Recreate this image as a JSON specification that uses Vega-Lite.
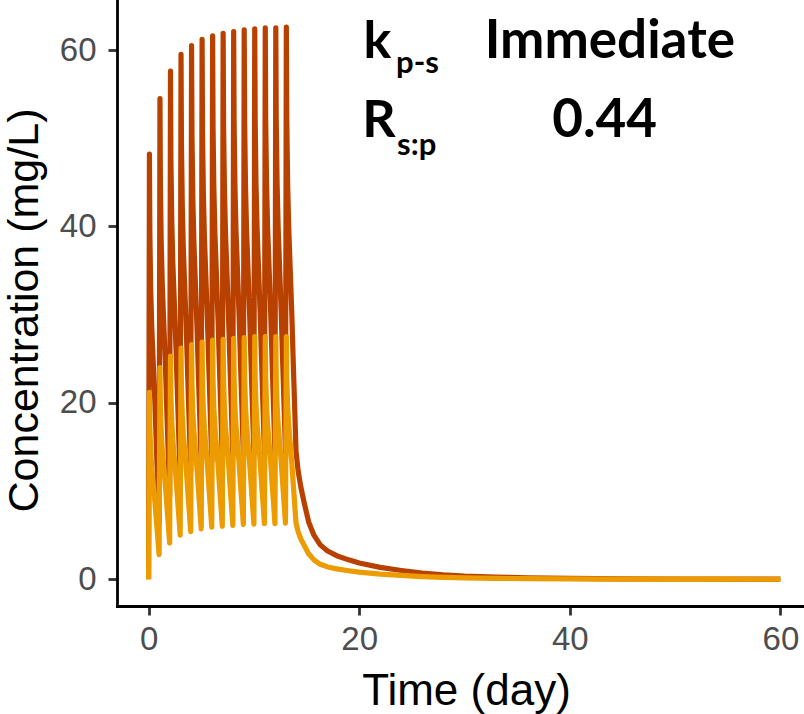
{
  "$schema": "https://vega.github.io/schema/vega-lite/v6.json",
  "width": 687,
  "height": 606,
  "autosize": {"type": "none"},
  "padding": {"left": 117, "top": 0, "right": 0, "bottom": 108},
  "background": "white",
  "config": {"view": {"stroke": null}, "axis": {"grid": false}},
  "layer": [
    {
      "data": {"values": [
        {"t":0,"p":0,"s":0},{"t":0.08,"p":48.2,"s":21.2},{"t":0.12,"p":39.2,"s":17.2},{"t":0.2,"p":32.9,"s":14.5},{"t":0.3,"p":28.6,"s":12.6},{"t":0.45,"p":24.3,"s":10.7},{"t":0.6,"p":19.9,"s":8.8},{"t":0.75,"p":14.7,"s":6.5},{"t":0.88,"p":10.4,"s":4.6},
        {"t":1,"p":6.3,"s":2.8},{"t":1.08,"p":54.5,"s":24.0},{"t":1.12,"p":44.8,"s":19.7},{"t":1.2,"p":38.1,"s":16.8},{"t":1.3,"p":33.4,"s":14.7},{"t":1.45,"p":28.7,"s":12.6},{"t":1.6,"p":24.1,"s":10.6},{"t":1.75,"p":18.4,"s":8.1},{"t":1.88,"p":13.8,"s":6.1},
        {"t":2,"p":9.4,"s":4.1},{"t":2.08,"p":57.6,"s":25.3},{"t":2.12,"p":47.6,"s":20.9},{"t":2.2,"p":40.7,"s":17.9},{"t":2.3,"p":35.9,"s":15.8},{"t":2.45,"p":31.2,"s":13.7},{"t":2.6,"p":26.3,"s":11.6},{"t":2.75,"p":20.6,"s":9.1},{"t":2.88,"p":15.8,"s":7.0},
        {"t":3,"p":11.3,"s":5.0},{"t":3.08,"p":59.5,"s":26.2},{"t":3.12,"p":49.4,"s":21.7},{"t":3.2,"p":42.3,"s":18.6},{"t":3.3,"p":37.4,"s":16.5},{"t":3.45,"p":32.5,"s":14.3},{"t":3.6,"p":27.6,"s":12.1},{"t":3.75,"p":21.7,"s":9.5},{"t":3.88,"p":16.9,"s":7.4},
        {"t":4,"p":12.3,"s":5.4},{"t":4.08,"p":60.5,"s":26.6},{"t":4.12,"p":50.3,"s":22.1},{"t":4.2,"p":43.2,"s":19.0},{"t":4.3,"p":38.3,"s":16.9},{"t":4.45,"p":33.4,"s":14.7},{"t":4.6,"p":28.4,"s":12.5},{"t":4.75,"p":22.5,"s":9.9},{"t":4.88,"p":17.6,"s":7.7},
        {"t":5,"p":13.0,"s":5.7},{"t":5.08,"p":61.2,"s":26.9},{"t":5.12,"p":50.9,"s":22.4},{"t":5.2,"p":43.8,"s":19.3},{"t":5.3,"p":38.8,"s":17.1},{"t":5.45,"p":33.9,"s":14.9},{"t":5.6,"p":28.9,"s":12.7},{"t":5.75,"p":23.0,"s":10.1},{"t":5.88,"p":18.0,"s":7.9},
        {"t":6,"p":13.4,"s":5.9},{"t":6.08,"p":61.6,"s":27.1},{"t":6.12,"p":51.3,"s":22.6},{"t":6.2,"p":44.2,"s":19.4},{"t":6.3,"p":39.2,"s":17.2},{"t":6.45,"p":34.2,"s":15.0},{"t":6.6,"p":29.3,"s":12.9},{"t":6.75,"p":23.3,"s":10.3},{"t":6.88,"p":18.3,"s":8.1},
        {"t":7,"p":13.7,"s":6.0},{"t":7.08,"p":61.9,"s":27.2},{"t":7.12,"p":51.6,"s":22.7},{"t":7.2,"p":44.4,"s":19.5},{"t":7.3,"p":39.4,"s":17.3},{"t":7.45,"p":34.5,"s":15.2},{"t":7.6,"p":29.5,"s":13.0},{"t":7.75,"p":23.5,"s":10.3},{"t":7.88,"p":18.6,"s":8.2},
        {"t":8,"p":13.9,"s":6.1},{"t":8.08,"p":62.1,"s":27.3},{"t":8.12,"p":51.8,"s":22.8},{"t":8.2,"p":44.6,"s":19.6},{"t":8.3,"p":39.6,"s":17.4},{"t":8.45,"p":34.7,"s":15.3},{"t":8.6,"p":29.7,"s":13.1},{"t":8.75,"p":23.7,"s":10.4},{"t":8.88,"p":18.8,"s":8.3},
        {"t":9,"p":14.1,"s":6.2},{"t":9.08,"p":62.3,"s":27.4},{"t":9.12,"p":52.0,"s":22.9},{"t":9.2,"p":44.8,"s":19.7},{"t":9.3,"p":39.8,"s":17.5},{"t":9.45,"p":34.8,"s":15.3},{"t":9.6,"p":29.8,"s":13.1},{"t":9.75,"p":23.8,"s":10.5},{"t":9.88,"p":18.9,"s":8.3},
        {"t":10,"p":14.2,"s":6.25},{"t":10.08,"p":62.4,"s":27.5},{"t":10.12,"p":52.1,"s":22.9},{"t":10.2,"p":44.9,"s":19.8},{"t":10.3,"p":39.9,"s":17.6},{"t":10.45,"p":34.9,"s":15.4},{"t":10.6,"p":29.9,"s":13.2},{"t":10.75,"p":23.9,"s":10.5},{"t":10.88,"p":19.0,"s":8.4},
        {"t":11,"p":14.3,"s":6.3},{"t":11.08,"p":62.5,"s":27.5},{"t":11.12,"p":52.1,"s":22.9},{"t":11.2,"p":45.0,"s":19.8},{"t":11.3,"p":39.9,"s":17.6},{"t":11.45,"p":35.0,"s":15.4},{"t":11.6,"p":30.0,"s":13.2},{"t":11.75,"p":23.9,"s":10.5},{"t":11.88,"p":19.0,"s":8.4},
        {"t":12,"p":14.3,"s":6.3},{"t":12.08,"p":62.5,"s":27.5},{"t":12.12,"p":52.2,"s":23.0},{"t":12.2,"p":45.0,"s":19.8},{"t":12.3,"p":40.0,"s":17.6},{"t":12.45,"p":35.0,"s":15.4},{"t":12.6,"p":30.0,"s":13.2},{"t":12.75,"p":24.0,"s":10.6},{"t":12.88,"p":19.1,"s":8.4},
        {"t":13,"p":14.4,"s":6.35},{"t":13.08,"p":62.6,"s":27.5},{"t":13.12,"p":52.3,"s":23.0},{"t":13.2,"p":45.1,"s":19.8},{"t":13.3,"p":40.1,"s":17.6},{"t":13.45,"p":35.1,"s":15.4},{"t":13.6,"p":30.1,"s":13.2},{"t":13.75,"p":24.1,"s":10.6},{"t":13.88,"p":19.2,"s":8.4},
        {"t":14,"p":14.5,"s":6.4},{"t":14.2,"p":12.3,"s":5.4},{"t":14.45,"p":10.5,"s":4.6},{"t":14.75,"p":8.8,"s":3.9},{"t":15.2,"p":6.5,"s":2.9},{"t":15.7,"p":5.0,"s":2.2},{"t":16.3,"p":3.9,"s":1.7},{"t":17,"p":3.2,"s":1.4},{"t":18,"p":2.6,"s":1.15},{"t":19,"p":2.2,"s":0.97},{"t":20,"p":1.85,"s":0.81},{"t":22,"p":1.35,"s":0.59},{"t":24,"p":1.0,"s":0.44},{"t":26,"p":0.7,"s":0.31},{"t":28,"p":0.5,"s":0.22},{"t":30,"p":0.36,"s":0.16},{"t":33,"p":0.24,"s":0.1},{"t":36,"p":0.16,"s":0.07},{"t":40,"p":0.1,"s":0.04},{"t":45,"p":0.05,"s":0.02},{"t":50,"p":0.03,"s":0.01},{"t":55,"p":0.02,"s":0.01},{"t":60,"p":0.01,"s":0.0}
      ]},
      "layer": [
        {
          "mark": {"type": "line", "color": "#B94100", "strokeWidth": 5.2, "strokeJoin": "round", "strokeCap": "butt"},
          "encoding": {
            "x": {"field": "t", "type": "quantitative", "scale": {"domain": [-3, 62.24], "nice": false, "zero": false},
              "axis": {"title": "Time (day)", "values": [0, 20, 40, 60], "labelFont": "Liberation Sans", "labelFontSize": 33, "labelColor": "#4D4D4D", "labelPadding": 8,
                "titleFont": "Liberation Sans", "titleFontSize": 44, "titleFontWeight": "normal", "titleColor": "black", "titleX": 349, "titleY": 98, "titleBaseline": "alphabetic",
                "domainColor": "black", "domainWidth": 2.8, "domainCap": "square", "tickColor": "#333333", "tickWidth": 2.8, "tickSize": 9}},
            "y": {"field": "p", "type": "quantitative", "scale": {"domain": [-3.03, 65.67], "nice": false, "zero": false},
              "axis": {"title": "Concentration (mg/L)", "values": [0, 20, 40, 60], "labelFont": "Liberation Sans", "labelFontSize": 33, "labelColor": "#4D4D4D", "labelPadding": 12,
                "titleFont": "Liberation Sans", "titleFontSize": 43, "titleFontWeight": "normal", "titleColor": "black", "titleAngle": -90, "titleX": -80, "titleY": 310, "titleAlign": "center", "titleBaseline": "alphabetic",
                "domainColor": "black", "domainWidth": 2.8, "domainCap": "square", "tickColor": "#333333", "tickWidth": 2.8, "tickSize": 9}}
          }
        },
        {
          "mark": {"type": "line", "color": "#EC9B00", "strokeWidth": 5.2, "strokeJoin": "round", "strokeCap": "butt"},
          "encoding": {
            "x": {"field": "t", "type": "quantitative"},
            "y": {"field": "s", "type": "quantitative"}
          }
        }
      ]
    },
    {
      "data": {"values": [{"x": 20.4, "y": 59.1, "label": "k"}, {"x": 20.3, "y": 50.1, "label": "R"}]},
      "mark": {"type": "text", "font": "Lato", "fontWeight": "bold", "fontSize": 52, "align": "left", "baseline": "alphabetic", "color": "black"},
      "encoding": {"x": {"field": "x", "type": "quantitative"}, "y": {"field": "y", "type": "quantitative"}, "text": {"field": "label"}}
    },
    {
      "data": {"values": [{"x": 23.5, "y": 57.4, "label": "p-s"}, {"x": 23.6, "y": 48.1, "label": "s:p"}]},
      "mark": {"type": "text", "font": "Lato", "fontWeight": "bold", "fontSize": 31, "align": "left", "baseline": "alphabetic", "color": "black"},
      "encoding": {"x": {"field": "x", "type": "quantitative"}, "y": {"field": "y", "type": "quantitative"}, "text": {"field": "label"}}
    },
    {
      "data": {"values": [{"x": 43.8, "y": 59.1, "label": "Immediate"}, {"x": 43.3, "y": 50.1, "label": "0.44"}]},
      "mark": {"type": "text", "font": "Lato", "fontWeight": "bold", "fontSize": 53, "align": "center", "baseline": "alphabetic", "color": "black"},
      "encoding": {"x": {"field": "x", "type": "quantitative"}, "y": {"field": "y", "type": "quantitative"}, "text": {"field": "label"}}
    }
  ]
}
